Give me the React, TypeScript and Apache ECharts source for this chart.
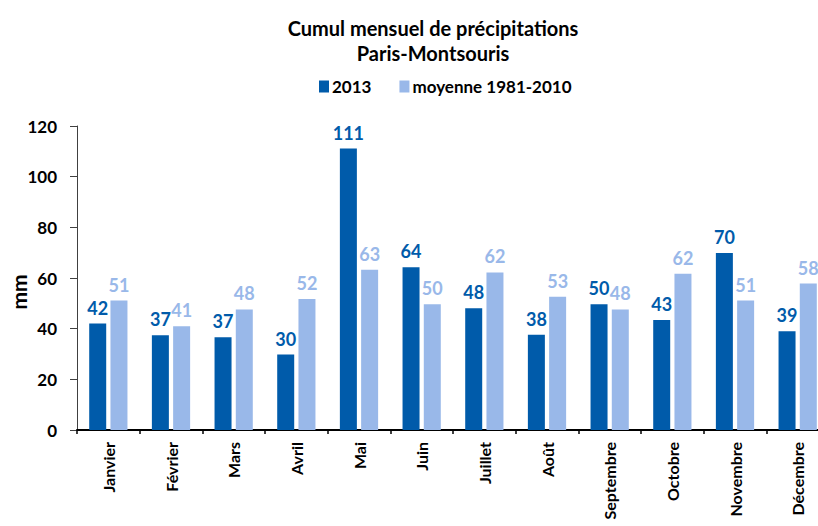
import React, { useEffect, useRef } from "react";
import * as echarts from "echarts";

const months = ["Janvier", "Février", "Mars", "Avril", "Mai", "Juin", "Juillet", "Août", "Septembre", "Octobre", "Novembre", "Décembre"];
const values2013 = [42.0, 37.4, 36.6, 29.8, 111.1, 64.2, 48.1, 37.6, 49.6, 43.4, 69.9, 39.0];
const normals = [51.1, 41.0, 47.6, 51.7, 63.3, 49.6, 62.2, 52.6, 47.6, 61.7, 51.1, 57.8];
const yTicks = [0, 20, 40, 60, 80, 100, 120];
const yAxisTitle = "mm";

const DARK = "#005BAA";
const LIGHT = "#99B8E9";
const FONT = "Lato";

export default function App() {
  const ref = useRef<HTMLDivElement>(null);
  useEffect(() => {
    const chart = echarts.init(ref.current!, null, { renderer: "svg" });
    chart.setOption({
      animation: false,
      backgroundColor: "#ffffff",
      textStyle: { fontFamily: FONT },
      title: {
        text: "Cumul mensuel de précipitations\nParis-Montsouris",
        left: 428,
        top: 10,
        textAlign: "center",
        textStyle: { fontFamily: FONT, fontWeight: "bold", fontSize: 20, color: "#000", lineHeight: 25 },
      },
      legend: {
        top: 73,
        left: 314,
        itemWidth: 10,
        itemHeight: 12,
        itemGap: 28,
        icon: "rect",
        textStyle: { fontFamily: FONT, fontWeight: "bold", fontSize: 17, color: "#000", padding: [0, 0, 0, -2] },
        data: ["2013", "moyenne 1981-2010"],
      },
      graphic: [
        {
          type: "text",
          x: 18,
          y: 292,
          rotation: Math.PI / 2,
          style: {
            text: yAxisTitle,
            fontFamily: FONT,
            fontWeight: "bold",
            fontSize: 21,
            fill: "#000",
            align: "center",
            verticalAlign: "middle",
          },
        },
      ],
      grid: { left: 77, top: 126, bottom: 96, right: -11, containLabel: false, outerBoundsMode: "none" },
      xAxis: {
        type: "category",
        data: months,
        axisLine: { lineStyle: { color: "#000", width: 2 } },
        axisTick: { show: true, length: 4, lineStyle: { color: "#000", width: 1.5 } },
        axisLabel: { rotate: 90, margin: 12, fontFamily: FONT, fontWeight: "bold", fontSize: 16, color: "#000" },
      },
      yAxis: {
        type: "value",
        min: 0,
        max: yTicks[yTicks.length - 1],
        interval: 20,
        splitLine: { show: false },
        axisLine: { show: true, lineStyle: { color: "#404040", width: 1 } },
        axisTick: { show: true, length: 7, lineStyle: { color: "#404040" } },
        axisLabel: { margin: 20, fontFamily: FONT, fontWeight: "bold", fontSize: 17, color: "#000" },
      },
      series: [
        {
          name: "2013",
          type: "bar",
          data: values2013,
          barWidth: 17,
          barGap: "25%",
          itemStyle: { color: DARK },
          label: {
            show: true,
            position: "top",
            distance: 7,
            formatter: (p: any) => String(Math.round(p.value)),
            fontFamily: FONT,
            fontWeight: "bold",
            fontSize: 18,
            color: DARK,
          },
        },
        {
          name: "moyenne 1981-2010",
          type: "bar",
          data: normals,
          barWidth: 17,
          itemStyle: { color: LIGHT },
          label: {
            show: true,
            position: "top",
            distance: 7,
            formatter: (p: any) => String(Math.round(p.value)),
            fontFamily: FONT,
            fontWeight: "bold",
            fontSize: 18,
            color: LIGHT,
          },
        },
      ],
    });
    return () => chart.dispose();
  }, []);
  return (
    <div
      ref={ref}
      style={{ position: "fixed", left: 0, top: 0, width: 818, height: 526, background: "#fff" }}
    />
  );
}
